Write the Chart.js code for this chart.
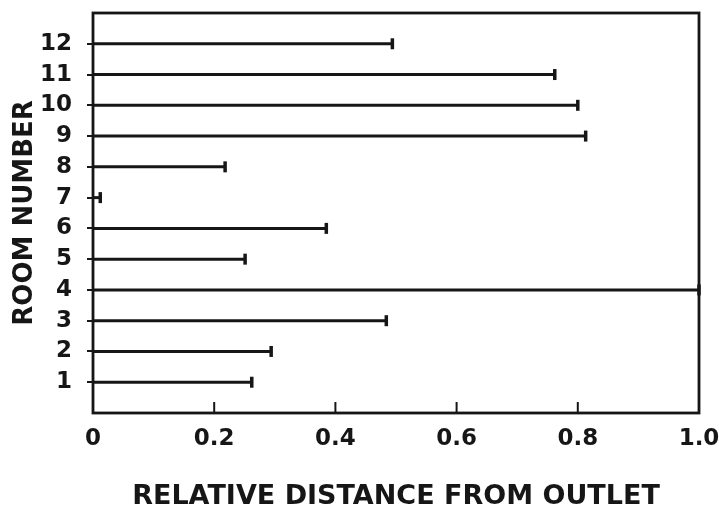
<!DOCTYPE html>
<html>
<head>
<meta charset="utf-8">
<script src="https://cdn.jsdelivr.net/npm/chart.js@4"></script>
<style>
  html, body { margin: 0; padding: 0; background: #fff; }
  #wrap { width: 719px; height: 508px; }
</style>
</head>
<body>
<div id="wrap"><canvas id="myChart"></canvas></div>
<script>
// room numbers (bottom to top) and relative distance from outlet
var rooms = [1, 2, 3, 4, 5, 6, 7, 8, 9, 10, 11, 12];
var distance = [0.262, 0.294, 0.484, 1.0, 0.251, 0.385, 0.012, 0.218, 0.813, 0.80, 0.762, 0.494];
var xTicks = [0, 0.2, 0.4, 0.6, 0.8, 1.0];
var xTickLabels = ['0', '0.2', '0.4', '0.6', '0.8', '1.0'];

var ink = '#161616';
var fam = '"DejaVu Sans", sans-serif';

// frame round the plot plus the inward ticks on the x axis
var framePlugin = {
    id: 'frame',
    afterDatasetsDraw: function (chart) {
        var ctx = chart.ctx, a = chart.chartArea, xs = chart.scales.x;
        ctx.save();
        ctx.strokeStyle = ink;
        ctx.lineWidth = 2.8;
        ctx.strokeRect(a.left, a.top, a.right - a.left, a.bottom - a.top);
        ctx.lineWidth = 2;
        xTicks.forEach(function (t) {
            if (t <= 0 || t >= 1) return;
            var px = xs.getPixelForValue(t);
            ctx.beginPath();
            ctx.moveTo(px, a.bottom);
            ctx.lineTo(px, a.bottom - 11);
            ctx.stroke();
        });
        ctx.restore();
    }
};

var datasets = rooms.map(function (r, i) {
    return {
        data: [{x: 0, y: r}, {x: distance[i], y: r}],
        borderColor: ink,
        borderWidth: 3,
        pointRadius: [0, 5.5],
        pointStyle: 'line',
        rotation: 90,
        pointBorderWidth: 3.5,
        pointBorderColor: ink,
        showLine: true,
        clip: false
    };
});

var ctx = document.getElementById('myChart').getContext('2d');
var chart = new Chart(ctx, {
    type: 'scatter',
    data: { datasets: datasets },
    options: {
        responsive: true,
        maintainAspectRatio: false,
        animation: false,
        layout: { padding: { top: 13, right: 20, left: 0, bottom: 0 } },
        plugins: { legend: { display: false }, tooltip: { enabled: false } },
        scales: {
            x: {
                type: 'linear',
                min: 0,
                max: 1,
                afterFit: function (s) { s.height = 95; s.paddingLeft = 0; s.paddingRight = 0; },
                afterBuildTicks: function (s) { s.ticks = xTicks.map(function (v) { return {value: v}; }); },
                ticks: {
                    color: ink,
                    padding: 4,
                    font: { family: fam, size: 23, weight: 'bold' },
                    callback: function (v, i) { return xTickLabels[i]; }
                },
                grid: { display: false },
                border: { display: false },
                title: {
                    display: true,
                    text: 'RELATIVE DISTANCE FROM OUTLET',
                    color: ink,
                    padding: 0,
                    font: { family: fam, size: 27, weight: 'bold', lineHeight: 0.85 }
                }
            },
            y: {
                type: 'linear',
                min: 0,
                max: 13,
                afterFit: function (s) { s.width = 93; s.paddingTop = 0; s.paddingBottom = 0; },
                ticks: {
                    stepSize: 1,
                    color: ink,
                    padding: 15,
                    font: { family: fam, size: 23, weight: 'bold' },
                    callback: function (v) { return rooms.indexOf(v) >= 0 ? String(v) : ''; }
                },
                grid: {
                    drawOnChartArea: false,
                    drawTicks: true,
                    tickLength: 6,
                    lineWidth: 2,
                    color: function (c) { return rooms.indexOf(c.tick.value) >= 0 ? ink : 'rgba(0,0,0,0)'; }
                },
                border: { display: false },
                title: {
                    display: true,
                    text: 'ROOM NUMBER',
                    color: ink,
                    padding: { top: 12, bottom: 0 },
                    font: { family: fam, size: 26, weight: 'bold', lineHeight: 1 }
                }
            }
        }
    },
    plugins: [framePlugin]
});
</script>
</body>
</html>
